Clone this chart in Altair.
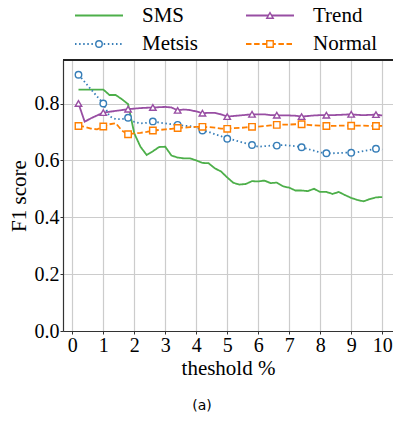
import altair as alt
import pandas as pd

# threshold values (%)
thresholds = [0.2, 0.4, 0.6, 0.8, 1.0, 1.2, 1.4, 1.6, 1.8, 2.0,
              2.2, 2.4, 2.6, 2.8, 3.0, 3.2, 3.4, 3.6, 3.8, 4.0,
              4.2, 4.4, 4.6, 4.8, 5.0, 5.2, 5.4, 5.6, 5.8, 6.0,
              6.2, 6.4, 6.6, 6.8, 7.0, 7.2, 7.4, 7.6, 7.8, 8.0,
              8.2, 8.4, 8.6, 8.8, 9.0, 9.2, 9.4, 9.6, 9.8, 10.0]

sms = [0.849, 0.849, 0.849, 0.849, 0.849, 0.830, 0.830, 0.815, 0.798, 0.695,
       0.648, 0.619, 0.632, 0.647, 0.648, 0.617, 0.610, 0.607, 0.607, 0.600,
       0.591, 0.590, 0.572, 0.561, 0.540, 0.521, 0.515, 0.517, 0.527, 0.526,
       0.529, 0.520, 0.522, 0.509, 0.504, 0.494, 0.494, 0.492, 0.500, 0.489,
       0.489, 0.482, 0.489, 0.478, 0.468, 0.461, 0.456, 0.464, 0.470, 0.471]

trend = [0.800, 0.736, 0.748, 0.758, 0.768, 0.771, 0.774, 0.777, 0.780, 0.782,
         0.784, 0.785, 0.786, 0.787, 0.788, 0.786, 0.776, 0.779, 0.777, 0.772,
         0.766, 0.767, 0.767, 0.762, 0.754, 0.756, 0.758, 0.760, 0.762, 0.762,
         0.762, 0.759, 0.759, 0.758, 0.758, 0.757, 0.754, 0.756, 0.758, 0.759,
         0.759, 0.759, 0.760, 0.761, 0.762, 0.760, 0.759, 0.760, 0.761, 0.758]

metsis = [0.901, 0.876, 0.850, 0.825, 0.800, 0.755, 0.745, 0.745, 0.750, 0.735,
          0.730, 0.732, 0.737, 0.733, 0.730, 0.727, 0.725, 0.722, 0.720, 0.716,
          0.705, 0.700, 0.692, 0.685, 0.676, 0.672, 0.666, 0.660, 0.654, 0.648,
          0.650, 0.652, 0.652, 0.654, 0.652, 0.650, 0.646, 0.640, 0.634, 0.628,
          0.625, 0.625, 0.626, 0.627, 0.627, 0.629, 0.633, 0.637, 0.641, 0.638]

normal = [0.721, 0.718, 0.712, 0.709, 0.719, 0.727, 0.731, 0.705, 0.692, 0.695,
          0.697, 0.700, 0.705, 0.707, 0.709, 0.711, 0.714, 0.715, 0.717, 0.718,
          0.718, 0.717, 0.715, 0.712, 0.711, 0.713, 0.714, 0.716, 0.718, 0.719,
          0.721, 0.723, 0.725, 0.726, 0.726, 0.727, 0.727, 0.725, 0.723, 0.722,
          0.721, 0.721, 0.722, 0.722, 0.722, 0.722, 0.722, 0.721, 0.721, 0.721]

series_names = ["SMS", "Trend", "Metsis", "Normal"]
series_colors = ["#4daf4a", "#984ea3", "#377eb8", "#ff7f00"]
series_dash = [[1, 0], [1, 0], [1.5, 2.6], [5.5, 2.6]]

# legend grid (two columns, two rows)
legend_col = [0, 1, 0, 1]
legend_row = [0, 0, 1, 1]

x_ticks = [0, 1, 2, 3, 4, 5, 6, 7, 8, 9, 10]
y_ticks = [0.0, 0.2, 0.4, 0.6, 0.8]
x_domain = [-0.3, 10.35]
y_domain = [0.0, 0.953]

rows = []
for name, vals in zip(["SMS", "Trend", "Metsis", "Normal"], [sms, trend, metsis, normal]):
    for i, (t, v) in enumerate(zip(thresholds, vals)):
        rows.append({"series": name, "x": t, "y": v, "idx": i})
df = pd.DataFrame(rows)
markers = df[df["idx"] % 4 == 0]

legend_df = pd.DataFrame({"series": series_names, "col": legend_col, "row": legend_row})

FONT = "Liberation Serif, DejaVu Serif, serif"

X = alt.X("x:Q", scale=alt.Scale(domain=x_domain, nice=False, zero=False),
          axis=alt.Axis(values=x_ticks, title="theshold %", format="d"))
Y = alt.Y("y:Q", scale=alt.Scale(domain=y_domain, nice=False, zero=False),
          axis=alt.Axis(values=y_ticks, title="F1 score", format=".1f"))

color = alt.Color("series:N", scale=alt.Scale(domain=series_names, range=series_colors), legend=None)
dash = alt.StrokeDash("series:N", scale=alt.Scale(domain=series_names, range=series_dash), legend=None)
shape = alt.Shape("series:N", scale=alt.Scale(domain=["Trend", "Metsis", "Normal"],
                                              range=["triangle-up", "circle", "square"]), legend=None)

base = alt.Chart(df)

border = base.mark_rule(color="#222222", strokeWidth=1).encode(y=alt.datum(y_domain[1]))

lines = base.mark_line(strokeWidth=1.8, clip=True).encode(
    x=X, y=Y, color=color, strokeDash=dash, order="x:Q",
)

pts = alt.Chart(markers[markers["series"] != "SMS"]).mark_point(
    filled=False, fill="white", size=42, strokeWidth=1.4, opacity=1
).encode(x=X, y=Y, color=color, shape=shape)

plot = alt.layer(border, lines, pts)

# legend drawn with its own scales, placed above the plot area
LX = alt.X("col:Q", scale=alt.Scale(domain=[0, 1], range=[36, 207]), axis=None)
LY = alt.Y("row:Q", scale=alt.Scale(domain=[0, 1], range=[-44.5, -16]), axis=None)
lbase = alt.Chart(legend_df)
leg_lines = lbase.mark_rule(strokeWidth=1.8, xOffset=-24, x2Offset=24).encode(
    x=LX, x2="col:Q", y=LY, color=color, strokeDash=dash)
leg_pts = lbase.transform_filter("datum.series != 'SMS'").mark_point(
    filled=False, fill="white", size=42, strokeWidth=1.4, opacity=1
).encode(x=LX, y=LY, color=color, shape=shape)
leg_text = lbase.mark_text(align="left", baseline="middle", dx=43, font=FONT, fontSize=21,
                           color="black").encode(x=LX, y=LY, text="series:N")
legend = alt.layer(leg_lines, leg_pts, leg_text)

chart = alt.layer(plot, legend).resolve_scale(x="independent", y="independent").properties(
    width=330, height=271,
    padding={"left": 55, "top": 52, "right": 0, "bottom": 82},
    autosize=alt.AutoSizeParams(type="none"),
    title=alt.TitleParams("(a)", orient="bottom", anchor="middle", font="DejaVu Sans",
                          fontSize=14, fontWeight="normal", color="black", dx=-26, offset=21),
).configure_view(stroke=None).configure_axis(
    grid=True, gridColor="#cccccc", gridWidth=1.2,
    domainColor="#333333", domainWidth=1.2, tickColor="#333333", tickSize=3, tickWidth=1,
    labelFont=FONT, labelFontSize=20, labelColor="black", labelPadding=1,
    titleFont=FONT, titleFontSize=21, titleFontWeight="normal", titleColor="black",
    labelFlush=False,
).configure_axisX(titlePadding=2).configure_axisY(titlePadding=5)

chart.save("out.html", embed_options={"renderer": "svg", "actions": False})
